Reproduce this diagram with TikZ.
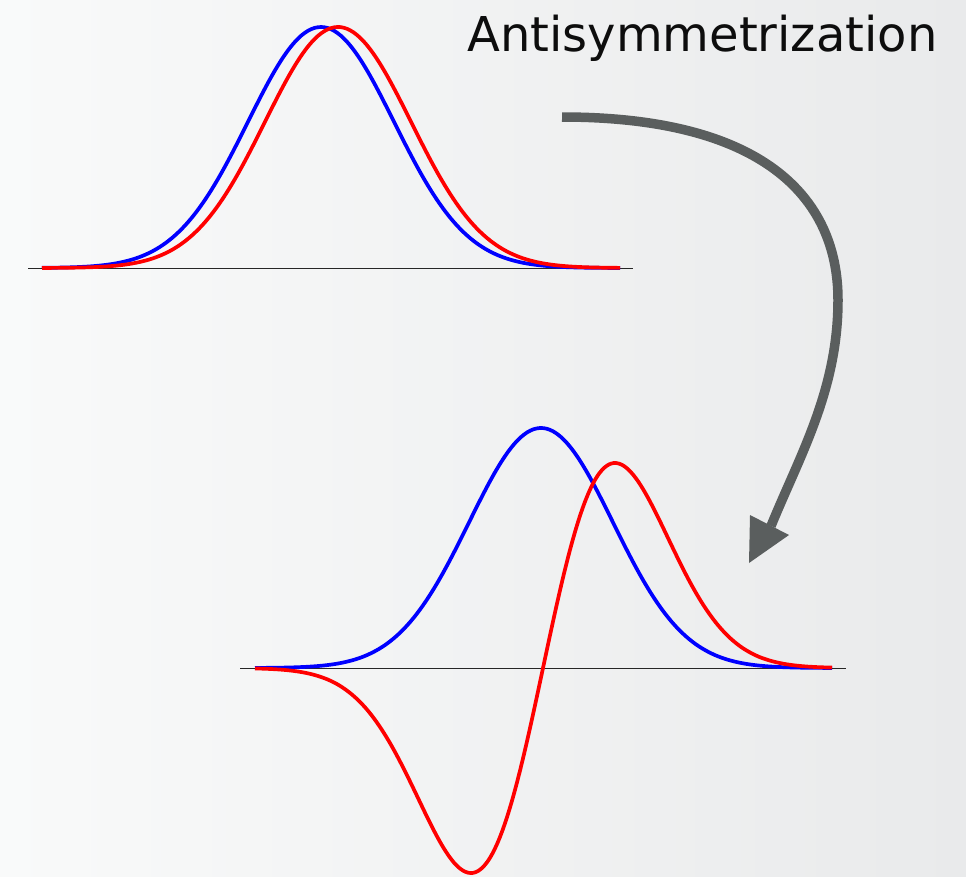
\documentclass[tikz,border=0pt]{standalone}
\usepackage{fontspec}
\newfontfamily\djv{DejaVu Sans}
\begin{document}
\begin{tikzpicture}[x=1pt,y=-1pt,
  axisline/.style={line width=0.9pt, black!85},
  bluecurve/.style={line width=3.7pt, blue, line join=round},
  redcurve/.style={line width=3.7pt, red, line join=round},
  bigarrow/.style={line width=9.5pt, draw={rgb,255:red,90;green,94;blue,94}},
  arrowhead/.style={fill={rgb,255:red,90;green,94;blue,94}}]
\definecolor{bgl}{RGB}{249,250,250}
\definecolor{bgr}{RGB}{233,234,235}
\shade[left color=bgl, right color=bgr] (0,0) rectangle (966,876);
\useasboundingbox (0,0) rectangle (966,876);
% top plot
\draw[axisline] (28,268) -- (633,268);
\draw[bluecurve] plot[domain=42:620, samples=90, smooth] (\x, {268-241*exp(-((\x-321)/73)^2/2)});
\draw[redcurve] plot[domain=42:620, samples=90, smooth] (\x, {268-241*exp(-((\x-338)/73)^2/2)});
% bottom plot
\draw[axisline] (240,668) -- (846,668);
\draw[bluecurve] plot[domain=255:832, samples=90, smooth] (\x, {668-240*exp(-((\x-541)/72)^2/2)});
\draw[redcurve] plot[domain=255:832, samples=120, smooth] (\x, {668-338*((\x-543)/72)*exp(-((\x-543)/72)^2/2)});
% arrow
\coordinate (as) at (562,117);
\coordinate (am) at (838,300);
\coordinate (ae) at (771,526);
\draw[bigarrow] (as) .. controls (760,117) and (838,195) .. (am)
  .. controls (838,390) and (800,455) .. (ae);
\fill[arrowhead] (749,563) -- (750,515) -- (789,535) -- cycle;
% label
\node[anchor=base west, inner sep=0pt, text=black!95] (lbl) at (467,51) {\djv\fontsize{48}{56}\selectfont Antisymmetrization};
\end{tikzpicture}
\end{document}
